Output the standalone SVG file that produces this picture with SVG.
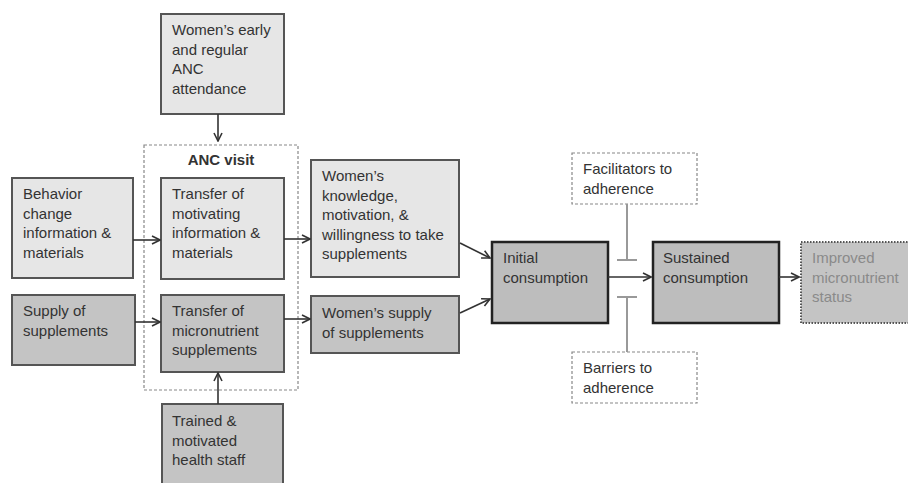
<svg xmlns="http://www.w3.org/2000/svg" width="908" height="483" viewBox="0 0 908 483">
<defs>
<marker id="arr" viewBox="0 0 10 10" refX="9" refY="5" markerWidth="10" markerHeight="10" markerUnits="userSpaceOnUse" orient="auto">
<path d="M1,1 L9,5 L1,9" fill="none" stroke="#333" stroke-width="1.6"/>
</marker>
<style>
text{font-family:"Liberation Sans",Arial,sans-serif;font-size:15px;fill:#333}
.light{fill:#e6e6e6;stroke:#555;stroke-width:2}
.dark{fill:#c4c4c4;stroke:#555;stroke-width:2}
.key{fill:#bdbdbd;stroke:#222;stroke-width:2.5}
.dash{fill:#fff;stroke:#888;stroke-width:1.2;stroke-dasharray:3 2}
.dot{fill:#c4c4c4;stroke:#555;stroke-width:2;stroke-dasharray:1.5 1.5}
.c{fill:none;stroke:#333;stroke-width:1.6}
.t{fill:none;stroke:#999;stroke-width:2}
.grey{fill:#8a8a8a}
.b{font-weight:bold}
</style>
</defs>
<g id="anc-visit">
<rect class="dash" x="144" y="145" width="154" height="245" fill="none"/>
<text class="b" x="221" y="165" text-anchor="middle">ANC visit</text>
</g>
<g id="womens-early">
<rect class="light" x="161" y="14" width="123" height="100"/>
<text x="172" y="35">Women’s early</text>
<text x="172" y="54.5">and regular</text>
<text x="172" y="74">ANC</text>
<text x="172" y="93.5">attendance</text>
</g>
<g id="behavior">
<rect class="light" x="12" y="178" width="121" height="100"/>
<text x="23" y="199">Behavior</text>
<text x="23" y="218.5">change</text>
<text x="23" y="238">information &amp;</text>
<text x="23" y="257.5">materials</text>
</g>
<g id="transfer-info">
<rect class="light" x="161" y="178" width="123" height="101"/>
<text x="172" y="199">Transfer of</text>
<text x="172" y="218.5">motivating</text>
<text x="172" y="238">information &amp;</text>
<text x="172" y="257.5">materials</text>
</g>
<g id="supply">
<rect class="dark" x="12" y="295" width="123" height="70"/>
<text x="23" y="316">Supply of</text>
<text x="23" y="335.5">supplements</text>
</g>
<g id="transfer-supp">
<rect class="dark" x="161" y="295" width="123" height="77"/>
<text x="172" y="316">Transfer of</text>
<text x="172" y="335.5">micronutrient</text>
<text x="172" y="355">supplements</text>
</g>
<g id="trained">
<rect class="dark" x="162" y="404" width="121" height="90"/>
<text x="172" y="426">Trained &amp;</text>
<text x="172" y="445.5">motivated</text>
<text x="172" y="465">health staff</text>
</g>
<g id="knowledge">
<rect class="light" x="311" y="160" width="148" height="117"/>
<text x="322" y="181">Women’s</text>
<text x="322" y="200.5">knowledge,</text>
<text x="322" y="220">motivation, &amp;</text>
<text x="322" y="239.5">willingness to take</text>
<text x="322" y="259">supplements</text>
</g>
<g id="womens-supply">
<rect class="dark" x="311" y="296" width="148" height="57"/>
<text x="322" y="318">Women’s supply</text>
<text x="322" y="337.5">of supplements</text>
</g>
<g id="initial">
<rect class="key" x="492" y="242" width="116" height="81"/>
<text x="503" y="263">Initial</text>
<text x="503" y="282.5">consumption</text>
</g>
<g id="facilitators">
<rect class="dash" x="572" y="153" width="125" height="51"/>
<text x="583" y="174">Facilitators to</text>
<text x="583" y="193.5">adherence</text>
</g>
<g id="barriers">
<rect class="dash" x="572" y="352" width="125" height="51"/>
<text x="583" y="373">Barriers to</text>
<text x="583" y="392.5">adherence</text>
</g>
<g id="sustained">
<rect class="key" x="653" y="242" width="126" height="81"/>
<text x="663" y="263">Sustained</text>
<text x="663" y="282.5">consumption</text>
</g>
<g id="improved">
<rect class="dot" x="801" y="242" width="120" height="81"/>
<text class="grey" x="812" y="263">Improved</text>
<text class="grey" x="812" y="282.5">micronutrient</text>
<text class="grey" x="812" y="302">status</text>
</g>
<g id="connectors">
<line class="c" x1="218" y1="114" x2="218" y2="141" marker-end="url(#arr)"/>
<line class="c" x1="133" y1="240" x2="160" y2="240" marker-end="url(#arr)"/>
<line class="c" x1="135" y1="322" x2="160" y2="322" marker-end="url(#arr)"/>
<line class="c" x1="218" y1="404" x2="218" y2="373" marker-end="url(#arr)"/>
<line class="c" x1="284" y1="239" x2="310" y2="239" marker-end="url(#arr)"/>
<line class="c" x1="284" y1="319" x2="310" y2="319" marker-end="url(#arr)"/>
<line class="c" x1="460" y1="243" x2="490" y2="258" marker-end="url(#arr)"/>
<line class="c" x1="460" y1="313" x2="490" y2="299" marker-end="url(#arr)"/>
<line class="c" x1="608" y1="277" x2="651" y2="277" marker-end="url(#arr)"/>
<line class="c" x1="779" y1="277" x2="799" y2="277" marker-end="url(#arr)"/>
<line class="t" x1="627" y1="204" x2="627" y2="260"/>
<line class="t" x1="617" y1="260" x2="637" y2="260"/>
<line class="t" x1="627" y1="352" x2="627" y2="297"/>
<line class="t" x1="617" y1="297" x2="637" y2="297"/>
</g>
</svg>
